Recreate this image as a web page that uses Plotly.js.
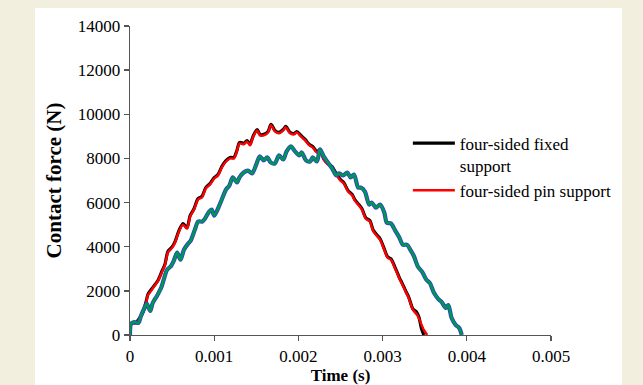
<!DOCTYPE html>
<html>
<head>
<meta charset="utf-8">
<script src="https://cdn.plot.ly/plotly-3.0.1.min.js"></script>
<style>
  html, body { margin: 0; padding: 0; background: #f2efdf; }
  #chart { width: 643px; height: 385px; }
</style>
</head>
<body>
<div id="chart"></div>
<script>
// Contact force histories (time in s, force in N)

// four-sided pin support
const tPin = [0, 0.000012, 0.00007, 0.00012, 0.000154, 0.00019, 0.000214, 0.00025, 0.0003, 0.000333,
  0.00038, 0.000416, 0.00045, 0.0005, 0.000534, 0.00058, 0.00063, 0.000677, 0.000713, 0.00076,
  0.000808, 0.000855, 0.0009, 0.00095, 0.001, 0.001045, 0.00109, 0.00114, 0.00119, 0.001235,
  0.00127, 0.0013, 0.001354, 0.00139, 0.001425, 0.00146, 0.00151, 0.001544, 0.00159, 0.00164,
  0.001675, 0.00172, 0.00177, 0.00182, 0.00185, 0.0019, 0.00195, 0.00198, 0.00203, 0.00208,
  0.00213, 0.00217, 0.00222, 0.002257, 0.0023, 0.00235, 0.0024, 0.00245, 0.0025, 0.00254,
  0.00259, 0.00264, 0.00267, 0.00272, 0.002755, 0.0028, 0.00285, 0.002886, 0.00293, 0.00297,
  0.00302, 0.00306, 0.0031, 0.00315, 0.0032, 0.00323, 0.00328, 0.00331, 0.00336, 0.00341,
  0.00344, 0.00349, 0.00353];
const fPin = [0, 500, 545, 770, 1000, 1450, 1820, 2000, 2270, 2450,
  2860, 3180, 3730, 3950, 4180, 4680, 5000, 4820, 5360, 5680,
  6140, 6230, 6640, 6820, 7090, 7230, 7590, 7860, 8000, 8000,
  8320, 8680, 8640, 8770, 8590, 8950, 9270, 9045, 9045, 9180,
  9500, 9230, 9140, 9270, 9410, 9140, 9090, 9180, 9000, 8820,
  8590, 8500, 8270, 8360, 7950, 7730, 7590, 7270, 7000, 6860,
  6500, 6320, 6090, 5860, 5680, 5270, 5140, 4730, 4500, 4320,
  3860, 3500, 3410, 3000, 2550, 2320, 1910, 1680, 1140, 910,
  680, 230, 0];

// four-sided fixed support
const tFixed = [0, 0.000012, 0.00007, 0.00012, 0.000154, 0.00019, 0.000214, 0.00025, 0.0003, 0.000333,
  0.00038, 0.000416, 0.00045, 0.0005, 0.000534, 0.00058, 0.00063, 0.000677, 0.000713, 0.00076,
  0.000808, 0.000855, 0.0009, 0.00095, 0.001, 0.001045, 0.00109, 0.00114, 0.00119, 0.001235,
  0.00127, 0.0013, 0.001354, 0.00139, 0.001425, 0.00146, 0.00151, 0.001544, 0.00159, 0.00164,
  0.001675, 0.00172, 0.00177, 0.00182, 0.00185, 0.0019, 0.00195, 0.00198, 0.00203, 0.00208,
  0.00213, 0.00217, 0.00222, 0.002257, 0.0023, 0.00235, 0.0024, 0.00245, 0.0025, 0.00254,
  0.00259, 0.00264, 0.00267, 0.00272, 0.002755, 0.0028, 0.00285, 0.002886, 0.00293, 0.00297,
  0.00302, 0.00306, 0.0031, 0.00315, 0.0032, 0.00323, 0.00328, 0.00331, 0.00336, 0.00340,
  0.00343, 0.00346, 0.00349];
const fFixed = [0, 520, 560, 800, 1050, 1500, 1850, 2050, 2300, 2480,
  2900, 3220, 3780, 3990, 4220, 4720, 5050, 4860, 5400, 5720,
  6180, 6280, 6680, 6860, 7130, 7270, 7630, 7900, 8040, 8050,
  8360, 8720, 8690, 8810, 8640, 8990, 9310, 9090, 9090, 9220,
  9540, 9270, 9180, 9310, 9450, 9180, 9130, 9220, 9040, 8860,
  8630, 8540, 8310, 8400, 7990, 7770, 7630, 7310, 7040, 6900,
  6540, 6360, 6130, 5900, 5720, 5310, 5180, 4770, 4540, 4360,
  3900, 3540, 3450, 3040, 2590, 2360, 1950, 1720, 1180, 1050,
  820, 320, 0];

// second case: outer and inner curves
const tCaseB = [0, 0.000012, 0.00005, 0.0001, 0.00013, 0.000166, 0.0002, 0.00024, 0.00027, 0.00032,
  0.00037, 0.0004, 0.00044, 0.00049, 0.00052, 0.00056, 0.0006, 0.00064, 0.00069, 0.00072,
  0.00077, 0.00081, 0.00086, 0.00089, 0.00094, 0.00097, 0.001, 0.00106, 0.00109, 0.00114,
  0.00118, 0.00122, 0.00127, 0.0013, 0.00135, 0.0014, 0.00145, 0.0015, 0.00154, 0.00159,
  0.00163, 0.00167, 0.00172, 0.00177, 0.00182, 0.00186, 0.00191, 0.00196, 0.00201, 0.00204,
  0.00209, 0.00214, 0.00217, 0.00222, 0.002257, 0.0023, 0.00235, 0.0024, 0.00245, 0.00248,
  0.00253, 0.00258, 0.00262, 0.00266, 0.00271, 0.00274, 0.00279, 0.00284, 0.00287, 0.00292,
  0.00297, 0.00302, 0.00305, 0.0031, 0.00315, 0.0032, 0.00324, 0.00329, 0.00333, 0.00337,
  0.00342, 0.00347, 0.00352, 0.00356, 0.00361, 0.00366, 0.0037, 0.00375, 0.00378, 0.00382,
  0.00387, 0.00391, 0.00394];
const fCaseBOuter = [0, 500, 590, 545, 860, 1180, 1410, 1090, 1450, 1770,
  2140, 2500, 2950, 3140, 3360, 3730, 3410, 3860, 4140, 4270,
  4770, 5140, 5140, 5270, 5590, 5680, 5410, 5860, 6140, 6590,
  6770, 7140, 6910, 7140, 7360, 7450, 7320, 7730, 8090, 7910,
  8050, 7820, 7770, 8140, 7950, 8320, 8550, 8320, 8140, 8270,
  7910, 7860, 8050, 7860, 8410, 8090, 7820, 7550, 7230, 7320,
  7230, 7360, 7140, 7270, 6680, 6680, 6500, 5910, 6000, 5770,
  5910, 5550, 5090, 5050, 4730, 4410, 4090, 4090, 3860, 3590,
  3090, 2860, 2500, 2360, 1910, 1640, 1500, 1230, 1360, 770,
  450, 320, 0];
const fCaseBInner = [0, 500, 590, 545, 860, 1180, 1410, 1090, 1450, 1770,
  2140, 2500, 2950, 3140, 3360, 3730, 3410, 3860, 4140, 4270,
  4770, 5140, 5140, 5270, 5590, 5680, 5410, 5860, 6140, 6590,
  6770, 7140, 6910, 7140, 7360, 7450, 7320, 7730, 8090, 7910,
  8050, 7820, 7770, 8140, 7950, 8320, 8550, 8320, 8140, 8270,
  7910, 7860, 8050, 7860, 8410, 8090, 7820, 7550, 7230, 7320,
  7230, 7360, 7140, 7270, 6680, 6680, 6500, 5910, 6000, 5770,
  5910, 5550, 5090, 5050, 4730, 4410, 4090, 4090, 3860, 3590,
  3090, 2860, 2500, 2360, 1910, 1640, 1500, 1230, 1360, 770,
  450, 320, 0];

const xTicks = [0, 0.001, 0.002, 0.003, 0.004, 0.005];
const xTickText = ['0', '0.001', '0.002', '0.003', '0.004', '0.005'];
const yTicks = [0, 2000, 4000, 6000, 8000, 10000, 12000, 14000];
const yTickText = ['0', '2000', '4000', '6000', '8000', '10000', '12000', '14000'];

const serif = 'Liberation Serif, Times New Roman, serif';

const traces = [
  { x: tFixed, y: fFixed, mode: 'lines', name: 'four-sided fixed<br>support',
    line: { color: '#000000', width: 3.2, shape: 'spline', smoothing: 0.8 } },
  { x: tPin, y: fPin, mode: 'lines', name: 'four-sided pin support',
    line: { color: '#ff0000', width: 2.4, shape: 'spline', smoothing: 0.8 } },
  { x: tCaseB, y: fCaseBOuter, mode: 'lines', showlegend: false,
    line: { color: '#2b46c8', width: 4.2, shape: 'spline', smoothing: 0.8 } },
  { x: tCaseB, y: fCaseBInner, mode: 'lines', showlegend: false,
    line: { color: '#00994c', width: 2.4, shape: 'spline', smoothing: 0.8 } }
];

const layout = {
  width: 643, height: 385,
  margin: { l: 130, r: 92, t: 26, b: 50 },
  paper_bgcolor: '#f2efdf',
  plot_bgcolor: 'rgba(0,0,0,0)',
  font: { family: serif, size: 17, color: '#000000' },
  shapes: [{
    type: 'rect', xref: 'paper', yref: 'paper', layer: 'below',
    x0: -0.2257, x1: 1.1686, y0: -0.3, y1: 1.0583,
    fillcolor: '#ffffff', line: { width: 0 }
  }],
  xaxis: {
    range: [0, 0.005], tickvals: xTicks, ticktext: xTickText,
    showgrid: false, zeroline: false, showline: true,
    linecolor: '#555555', linewidth: 1.3,
    ticks: 'outside', ticklen: 5, tickcolor: '#555555', tickwidth: 1.3,
    tickfont: { family: serif, size: 17 },
    title: { text: '<b>Time (s)</b>', font: { family: serif, size: 17 }, standoff: 5 }
  },
  yaxis: {
    range: [0, 14000], tickvals: yTicks, ticktext: yTickText,
    showgrid: false, zeroline: false, showline: true,
    linecolor: '#555555', linewidth: 1.3,
    ticks: 'outside', ticklen: 5, tickcolor: '#555555', tickwidth: 1.3,
    tickfont: { family: serif, size: 17 },
    title: { text: '<b>Contact force (N)</b>', font: { family: serif, size: 21 }, standoff: 10 }
  },
  legend: {
    x: 0.66, y: 0.678, xanchor: 'left', yanchor: 'top',
    bgcolor: 'rgba(0,0,0,0)', borderwidth: 0, itemwidth: 42,
    font: { family: serif, size: 17 }, valign: 'top', tracegroupgap: 0
  },
  showlegend: true
};

Plotly.newPlot('chart', traces, layout, { displayModeBar: false, staticPlot: true });
</script>
</body>
</html>
